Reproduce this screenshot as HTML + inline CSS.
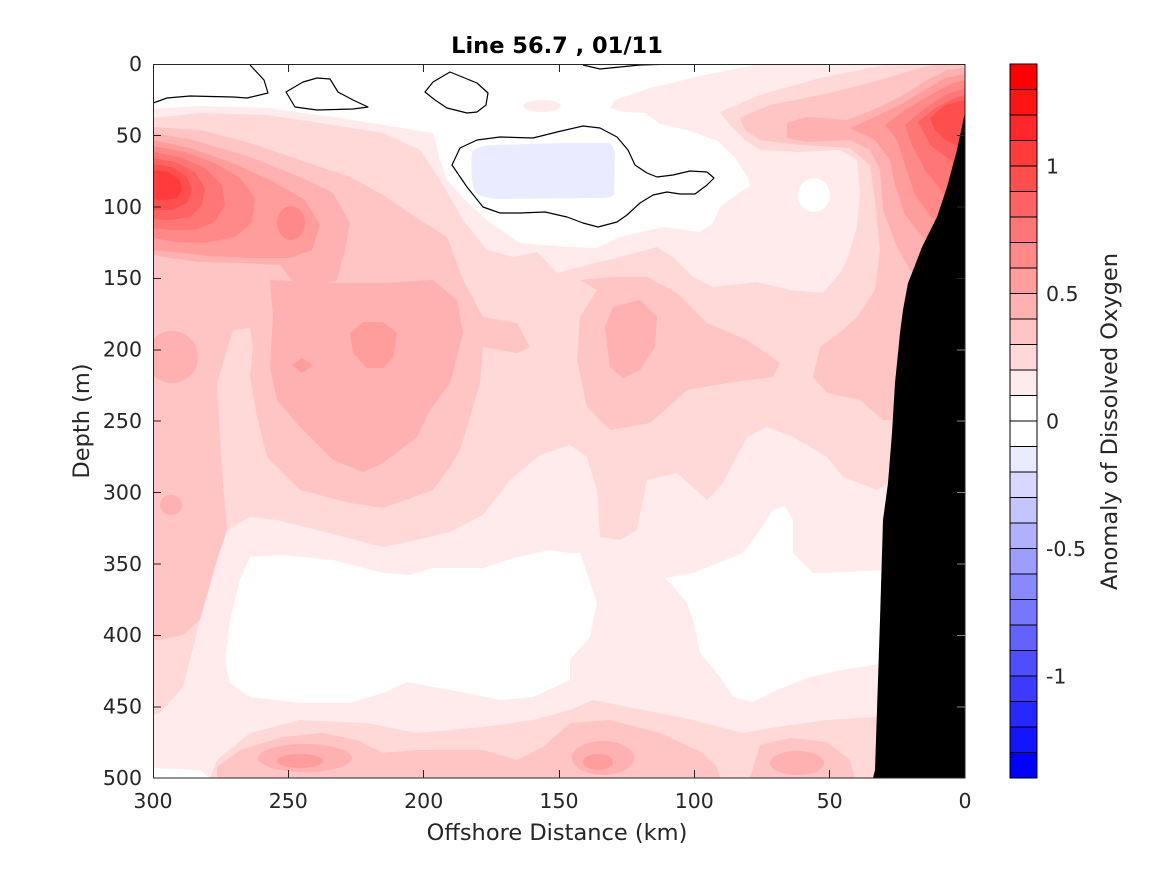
<!DOCTYPE html>
<html><head><meta charset="utf-8"><style>
html,body{margin:0;padding:0;background:#fff;}
svg{display:block;}
text{font-family:"DejaVu Sans","Liberation Sans",sans-serif;fill:#262626;}
</style></head><body>
<svg width="1167" height="875" viewBox="0 0 1167 875" xmlns="http://www.w3.org/2000/svg">
<defs><clipPath id="pc"><rect x="153" y="64" width="812" height="714"/></clipPath></defs>
<rect width="1167" height="875" fill="#fff"/>
<g clip-path="url(#pc)">
<!-- L1 base -->
<rect x="153" y="64" width="812" height="714" fill="#ffebeb"/>
<!-- L2 main -->
<polygon fill="#ffd8d8" points="153,118 200,113 267,115 333,125 383,133 420,150 440,180 600,230 720,112 760,95 820,78 880,66 900,64 965,64 965,778 153,778"/>
<!-- L1 holes -->
<polygon fill="#ffebeb" points="430,130 440,180 463,220 487,250 513,257 537,252 557,273 580,267 620,257 657,247 673,257 693,277 713,287 757,282 790,290 823,293 840,273 847,260 857,227 860,193 857,160 840,150 800,152 760,150 745,140 730,125 720,112 700,95 600,95 440,110"/>
<polygon fill="#ffebeb" points="888,483 877,490 843,477 827,457 793,437 767,427 747,437 723,483 707,500 677,473 647,480 637,530 620,540 600,537 597,490 587,457 570,445 540,455 510,480 483,515 450,532 417,540 383,547 317,530 277,520 250,517 227,530 217,545 200,620 183,687 160,713 153,715 153,778 210,778 217,760 250,733 300,720 367,723 417,733 483,727 533,720 570,710 593,700 643,710 693,720 743,733 777,727 827,720 873,717 880,717 885,600"/>
<!-- white regions -->
<polygon fill="#fff" points="153,64 760,64 700,76 650,88 615,100 610,108 625,112 645,113 660,124 690,131 718,141 735,158 748,178 750,186 740,192 720,207 713,223 700,232 663,227 620,237 597,248 567,247 520,243 490,223 465,200 447,180 440,160 433,133 383,125 333,117 267,108 200,106 153,109"/>
<polygon fill="#fff" points="250,557 283,555 333,560 383,573 410,575 433,568 483,568 517,557 550,550 570,553 580,553 597,603 590,637 570,660 570,680 533,697 500,700 467,693 433,687 407,682 383,693 350,703 300,703 250,697 230,683 225,660 230,620 240,580"/>
<polygon fill="#fff" points="665,578 693,573 743,553 760,530 773,510 785,506 793,520 793,553 813,573 843,572 885,570 885,663 843,670 810,677 777,690 753,702 733,697 720,677 700,653 693,620 687,603 670,583"/>
<polygon fill="#fff" points="153,768 200,770 210,778 153,778"/>
<ellipse cx="814" cy="195" rx="16" ry="17" fill="#fff"/>
<ellipse cx="542" cy="106" rx="19" ry="6" fill="#ffebeb"/>
<!-- blue -->
<path fill="#ebebff" d="M472,152 Q478,145 495,145 L560,143 L608,143 Q614,145 615,155 L614,194 Q612,198 600,198 L500,199 Q478,198 474,190 Q470,175 472,152 Z"/>
<!-- L3 -->
<g fill="#ffc4c4">
<polygon points="153,127 200,130 250,143 300,160 350,177 383,195 420,220 447,237 463,280 483,317 517,323 530,347 517,353 483,347 480,383 470,417 460,450 450,467 433,490 383,508 350,503 300,490 267,457 257,417 250,377 253,347 250,328 233,330 217,383 220,437 223,483 227,530 217,560 200,620 183,635 160,640 153,640"/>
<polygon points="580,280 613,277 647,277 677,293 707,323 747,340 780,363 773,377 727,383 687,390 650,423 610,430 587,407 577,360 580,317 597,290"/>
<polygon points="740,118 770,105 830,93 880,80 920,68 940,64 965,64 965,430 893,420 883,420 860,400 827,393 813,377 820,347 843,330 857,317 875,290 880,250 875,200 870,165 850,148 800,145 760,140 745,130"/>
<polygon points="217,778 217,767 240,750 283,737 323,733 357,740 383,753 417,750 483,750 517,760 543,747 570,723 610,720 660,733 703,753 717,767 720,778"/>
<polygon points="750,778 760,745 790,738 827,742 850,760 855,778"/>
</g>
<!-- L4 -->
<g fill="#ffb0b0">
<polygon points="153,133 193,140 250,157 300,177 333,193 350,223 345,250 337,280 315,287 293,282 280,265 240,263 200,262 170,258 153,255"/>
<polygon points="270,280 317,283 383,283 433,280 457,300 463,333 450,383 430,410 417,437 383,463 363,472 333,460 300,427 277,400 270,367 273,317"/>
<ellipse cx="172" cy="357" rx="26" ry="26"/>
<ellipse cx="171" cy="505" rx="11" ry="10"/>
<polygon points="613,307 640,300 657,317 655,347 640,370 623,378 610,367 605,327"/>
<polygon points="787,123 807,117 847,120 873,110 900,97 927,80 947,70 965,68 965,300 910,270 897,247 883,210 880,170 870,150 850,140 807,142 787,138"/>
<ellipse cx="305" cy="758" rx="47" ry="14"/>
<ellipse cx="603" cy="758" rx="31" ry="17"/>
<ellipse cx="797" cy="763" rx="27" ry="12"/>
</g>
<!-- L5 -->
<g fill="#ff9d9d">
<polygon points="153,140 190,148 230,162 270,180 305,200 320,225 312,250 290,258 250,258 210,256 175,252 153,250"/>
<polygon points="350,333 363,322 383,322 397,333 393,357 383,368 367,368 353,353"/>
<polygon points="292,365 302,358 313,365 302,373"/>
<polygon points="850,128 875,117 900,105 925,90 945,78 965,74 965,260 925,240 905,215 895,185 890,160 875,140"/>
<ellipse cx="300" cy="761" rx="23" ry="7"/>
<ellipse cx="598" cy="762" rx="15" ry="8"/>
</g>
<!-- L6 -->
<g fill="#ff8989">
<polygon points="153,146 185,152 215,163 240,178 255,198 252,222 235,237 205,243 175,242 153,238"/>
<ellipse cx="291" cy="223" rx="14" ry="17"/>
<polygon points="885,125 905,110 930,95 950,84 965,80 965,235 935,222 915,195 905,165 897,140"/>
</g>
<!-- L7 -->
<g fill="#ff7676">
<polygon points="153,152 180,157 205,168 222,185 225,205 215,222 195,230 170,230 153,228"/>
<polygon points="905,125 925,108 945,95 965,88 965,205 945,195 925,170 912,145"/>
</g>
<!-- L8 -->
<g fill="#ff6262">
<polygon points="153,158 175,162 195,172 205,188 202,205 190,217 170,220 153,219"/>
<polygon points="918,122 935,108 955,98 965,95 965,175 950,160 930,145"/>
</g>
<!-- L9 -->
<g fill="#ff4e4e">
<polygon points="153,164 172,167 187,177 192,190 187,203 172,210 153,210"/>
<polygon points="930,118 945,105 965,100 965,150 945,140 935,130"/>
</g>
<!-- L10 -->
<polygon fill="#ff3b3b" points="153,170 168,172 180,180 182,190 177,198 165,200 153,199"/>
<!-- bathymetry -->
<polygon fill="#000" points="965,112 957,150 947,187 937,217 922,247 912,273 908,283 903,310 900,333 895,383 892,433 888,483 883,520 880,620 875,770 873,778 966,778 966,112"/>
<!-- contour lines -->
<g fill="none" stroke="#000" stroke-width="1.2" stroke-linejoin="round">
<polyline points="153,103 167,98 190,96 233,97 247,98 268,93 264,80 250,65"/>
<polygon points="286,92 295,107 317,110 353,109 368,107 353,100 338,92 330,79 317,78 303,82"/>
<polygon points="425,92 433,82 450,72 477,83 488,93 486,105 477,112 467,113 447,108 435,100"/>
<polyline points="583,65 600,69 620,67 640,65 673,64"/>
<polygon points="460,148 477,140 500,137 533,138 557,132 583,126 600,128 617,137 628,150 635,165 647,173 657,177 673,175 690,171 707,172 714,178 707,185 695,194 680,194 667,192 653,195 640,203 627,215 617,222 598,227 583,223 567,217 545,212 520,213 500,213 483,207 467,187 452,165"/>
</g>
</g>
<!-- axes -->
<g stroke="#262626" stroke-width="1" fill="none">
<rect x="153.5" y="64.5" width="811.5" height="713.5"/>
<path d="M153.5,778V770 M288.5,778V770 M423.5,778V770 M559.5,778V770 M694.5,778V770 M829.5,778V770 M965,778V770
M153.5,64V72 M288.5,64V72 M423.5,64V72 M559.5,64V72 M694.5,64V72 M829.5,64V72
M153,64.5H161 M153,135.5H161 M153,207H161 M153,278.5H161 M153,350H161 M153,421H161 M153,492.5H161 M153,564H161 M153,635.5H161 M153,707H161
M965,135.5H957 M965,207H957 M965,278.5H957 M965,350H957 M965,421H957 M965,492.5H957 M965,564H957 M965,635.5H957 M965,707H957"/>
</g>
<g stroke="#888" stroke-width="1">
<path d="M965,350H957 M965,421H957 M965,492.5H957 M965,564H957 M965,635.5H957 M965,707H957"/>
</g>
<!-- tick labels -->
<g font-size="20.5" text-anchor="middle">
<text x="153" y="808">300</text>
<text x="288.3" y="808">250</text>
<text x="423.7" y="808">200</text>
<text x="559" y="808">150</text>
<text x="694.3" y="808">100</text>
<text x="829.7" y="808">50</text>
<text x="965" y="808">0</text>
</g>
<g font-size="20.5" text-anchor="end">
<text x="142" y="71">0</text>
<text x="142" y="142.4">50</text>
<text x="142" y="213.8">100</text>
<text x="142" y="285.2">150</text>
<text x="142" y="356.6">200</text>
<text x="142" y="428">250</text>
<text x="142" y="499.4">300</text>
<text x="142" y="570.8">350</text>
<text x="142" y="642.2">400</text>
<text x="142" y="713.6">450</text>
<text x="142" y="785">500</text>
</g>
<text x="557" y="53" font-size="22.5" font-weight="bold" text-anchor="middle" fill="#000" style="fill:#000">Line 56.7 , 01/11</text>
<text x="557" y="840" font-size="22.5" text-anchor="middle">Offshore Distance (km)</text>
<text transform="translate(89,421) rotate(-90)" font-size="22.5" text-anchor="middle">Depth (m)</text>
<!-- colorbar -->
<g stroke="#000" stroke-width="1">
<rect x="1010" y="64" width="27" height="25.5" fill="#ff0000"/>
<rect x="1010" y="89.5" width="27" height="25.5" fill="#ff1414"/>
<rect x="1010" y="115" width="27" height="25.5" fill="#ff2727"/>
<rect x="1010" y="140.5" width="27" height="25.5" fill="#ff3b3b"/>
<rect x="1010" y="166" width="27" height="25.5" fill="#ff4e4e"/>
<rect x="1010" y="191.5" width="27" height="25.5" fill="#ff6262"/>
<rect x="1010" y="217" width="27" height="25.5" fill="#ff7676"/>
<rect x="1010" y="242.5" width="27" height="25.5" fill="#ff8989"/>
<rect x="1010" y="268" width="27" height="25.5" fill="#ff9d9d"/>
<rect x="1010" y="293.5" width="27" height="25.5" fill="#ffb0b0"/>
<rect x="1010" y="319" width="27" height="25.5" fill="#ffc4c4"/>
<rect x="1010" y="344.5" width="27" height="25.5" fill="#ffd8d8"/>
<rect x="1010" y="370" width="27" height="25.5" fill="#ffebeb"/>
<rect x="1010" y="395.5" width="27" height="25.5" fill="#ffffff"/>
<rect x="1010" y="421" width="27" height="25.5" fill="#ffffff"/>
<rect x="1010" y="446.5" width="27" height="25.5" fill="#ebebff"/>
<rect x="1010" y="472" width="27" height="25.5" fill="#d8d8ff"/>
<rect x="1010" y="497.5" width="27" height="25.5" fill="#c4c4ff"/>
<rect x="1010" y="523" width="27" height="25.5" fill="#b0b0ff"/>
<rect x="1010" y="548.5" width="27" height="25.5" fill="#9d9dff"/>
<rect x="1010" y="574" width="27" height="25.5" fill="#8989ff"/>
<rect x="1010" y="599.5" width="27" height="25.5" fill="#7676ff"/>
<rect x="1010" y="625" width="27" height="25.5" fill="#6262ff"/>
<rect x="1010" y="650.5" width="27" height="25.5" fill="#4e4eff"/>
<rect x="1010" y="676" width="27" height="25.5" fill="#3b3bff"/>
<rect x="1010" y="701.5" width="27" height="25.5" fill="#2727ff"/>
<rect x="1010" y="727" width="27" height="25.5" fill="#1414ff"/>
<rect x="1010" y="752.5" width="27" height="25.5" fill="#0000ff"/>
</g>
<g font-size="20.5">
<text x="1046" y="173.5">1</text>
<text x="1046" y="301">0.5</text>
<text x="1046" y="428.5">0</text>
<text x="1046" y="556">-0.5</text>
<text x="1046" y="683.5">-1</text>
</g>
<text transform="translate(1117,421.5) rotate(-90)" font-size="22.5" text-anchor="middle">Anomaly of Dissolved Oxygen</text>
</svg>
</body></html>
